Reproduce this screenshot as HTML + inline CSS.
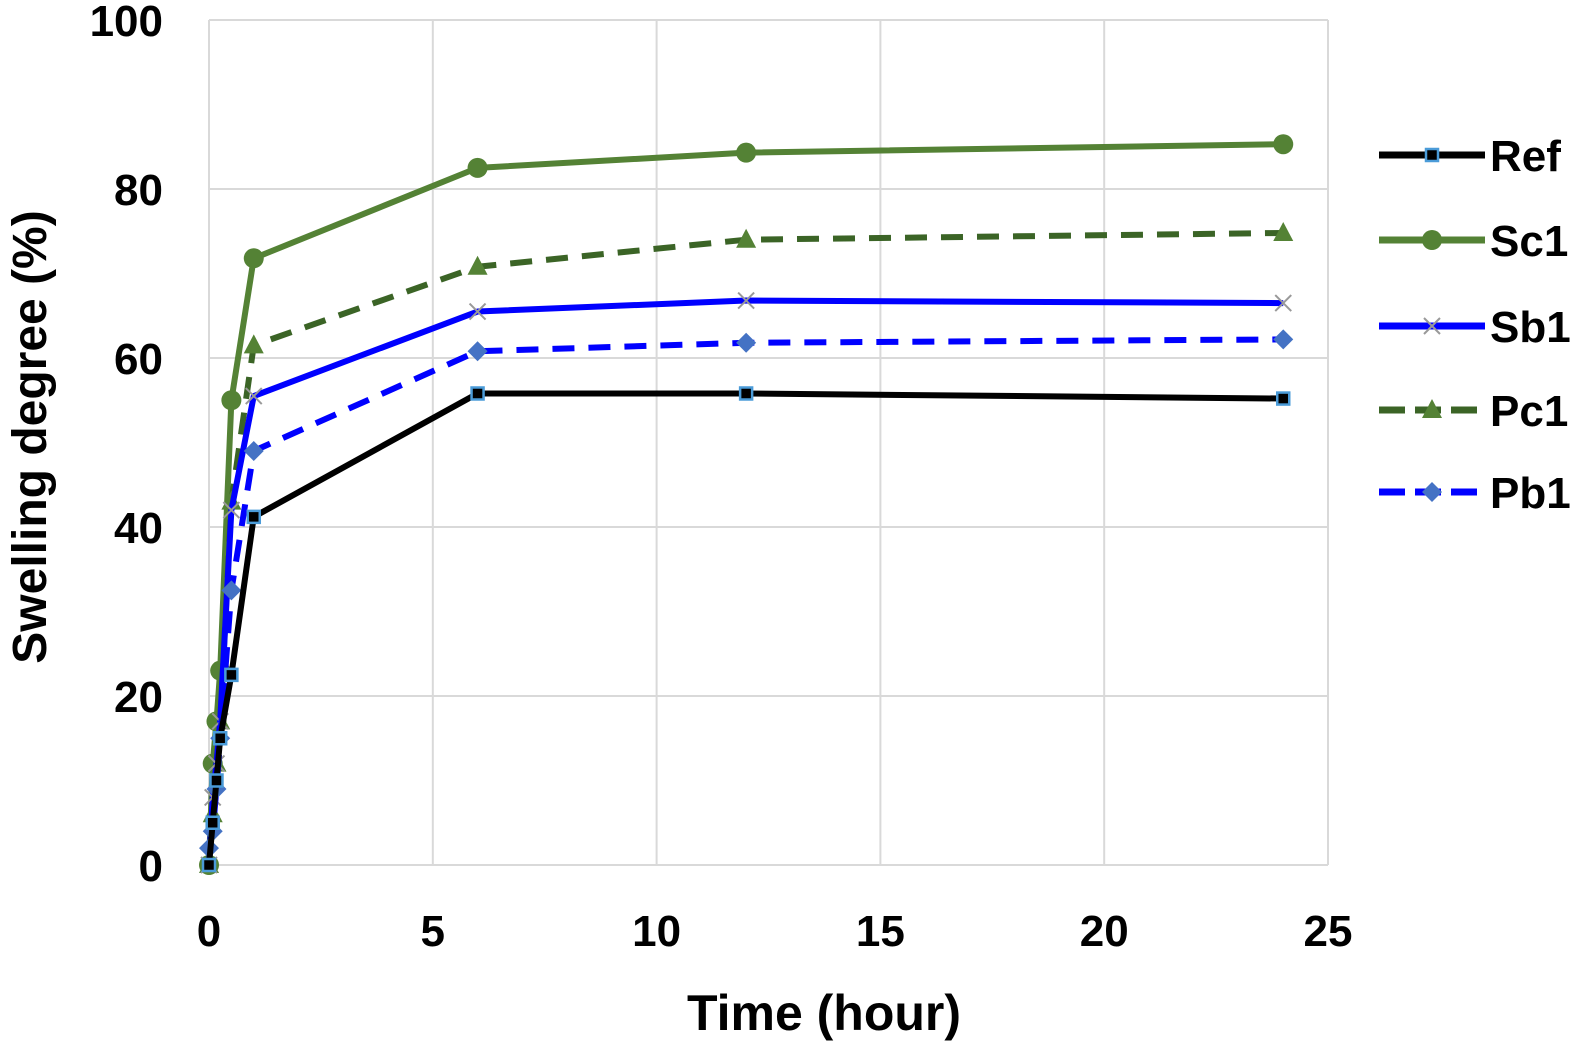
<!DOCTYPE html>
<html><head><meta charset="utf-8"><style>
html,body{margin:0;padding:0;background:#fff}
svg{display:block}
text{font-family:"Liberation Sans",sans-serif;font-weight:bold;fill:#000}
</style></head><body>
<svg id="chart" width="1575" height="1045" viewBox="0 0 1575 1045">
<g id="grid"></g>
<g id="axes"></g>
<g id="series"></g>
<g id="legend"></g>
<text x="824" y="1030" font-size="50" text-anchor="middle">Time (hour)</text>
<text transform="translate(46,437) rotate(-90)" font-size="48" text-anchor="middle">Swelling degree (%)</text>
</svg>
<script>
const times = [0, 0.083, 0.167, 0.25, 0.5, 1, 6, 12, 24];
const refVals = [0, 5, 10, 15, 22.5, 41.2, 55.8, 55.8, 55.2];
const sc1Vals = [0, 12, 17, 23, 55, 71.8, 82.5, 84.3, 85.3];
const sb1Vals = [0, 8, 12, 17, 42, 55.5, 65.5, 66.8, 66.5];
const pc1Vals = [0, 6, 12, 17, 43, 61.5, 70.8, 74, 74.8];
const pb1Vals = [2, 4, 9, 15, 32.5, 49, 60.8, 61.8, 62.2];
const xTicks = [0, 5, 10, 15, 20, 25];
const yTicks = [0, 20, 40, 60, 80, 100];
const seriesNames = ["Ref", "Sc1", "Sb1", "Pc1", "Pb1"];

const NS = "http://www.w3.org/2000/svg";
const X0 = 209, X1 = 1328, Y0 = 865, Y1 = 20;
function xs(t){ return X0 + (t/25)*(X1-X0); }
function ys(v){ return Y0 - (v/100)*(Y0-Y1); }
function mk(tag, attrs, parent){ const e=document.createElementNS(NS,tag); for(const k in attrs) e.setAttribute(k,attrs[k]); parent.appendChild(e); return e; }

const grid=document.getElementById('grid'), axes=document.getElementById('axes');
xTicks.forEach(t=>{
  const l=mk('line',{x1:xs(t),x2:xs(t),y1:Y1,y2:Y0,stroke:'#d9d9d9','stroke-width':2},grid);
  
  
  const tx=mk('text',{x:xs(t),y:946,'font-size':44,'text-anchor':'middle'},axes);
  tx.textContent=t;
  
  
});
yTicks.forEach(v=>{
  const l=mk('line',{x1:X0,x2:X1,y1:ys(v),y2:ys(v),stroke:'#d9d9d9','stroke-width':2},grid);
  
  
  const tx=mk('text',{x:163,y:ys(v)+16,'font-size':44,'text-anchor':'end'},axes);
  tx.textContent=v;
  
  
});

const styles = {
  Ref:{vals:refVals,stroke:'#000',dash:null,marker:'square'},
  Sc1:{vals:sc1Vals,stroke:'#548235',dash:null,marker:'circle'},
  Sb1:{vals:sb1Vals,stroke:'#0000ff',dash:null,marker:'x'},
  Pc1:{vals:pc1Vals,stroke:'#3b6426',dash:'22,14',marker:'tri'},
  Pb1:{vals:pb1Vals,stroke:'#0000ff',dash:'22,14',marker:'diamond'}
};
function marker(type,x,y,g){
  let e;
  if(type==='square') e=mk('rect',{x:x-6,y:y-6,width:12,height:12,fill:'#000',stroke:'#4a9bd8','stroke-width':2.5},g);
  else if(type==='circle') e=mk('circle',{cx:x,cy:y,r:10,fill:'#548235'},g);
  else if(type==='x'){ e=mk('path',{d:`M${x-8},${y-8}L${x+8},${y+8}M${x-8},${y+8}L${x+8},${y-8}`,stroke:'#999','stroke-width':2},g); }
  else if(type==='tri') e=mk('polygon',{points:`${x},${y-11} ${x+10},${y+8} ${x-10},${y+8}`,fill:'#548235'},g);
  else e=mk('polygon',{points:`${x},${y-10} ${x+10},${y} ${x},${y+10} ${x-10},${y}`,fill:'#4472c4'},g);
  
  
}
const sg=document.getElementById('series');
const order=["Sc1","Pc1","Sb1","Pb1","Ref"];
order.forEach(n=>{
  const s=styles[n];
  const g=mk('g',{},sg);
  
  
  const pts=s.vals.map((v,i)=>xs(times[i])+','+ys(v)).join(' ');
  const a={points:pts,fill:'none',stroke:s.stroke,'stroke-width':6,'stroke-linejoin':'round'};
  if(s.dash) a['stroke-dasharray']=s.dash;
  const pl=mk('polyline',a,g);
  
  
  s.vals.forEach((v,i)=>marker(s.marker,xs(times[i]),ys(v),g));
});
const lg=document.getElementById('legend');
const ly=[155,240,326,410,492];
seriesNames.forEach((n,i)=>{
  const s=styles[n];
  const g=mk('g',{},lg);
  
  
  const a={x1:1379,x2:1485,y1:ly[i],y2:ly[i],stroke:s.stroke,'stroke-width':7};
  if(s.dash) a['stroke-dasharray']='26,10';
  mk('line',a,g);
  marker(s.marker,1432,ly[i],g);
  const t=mk('text',{x:1490,y:ly[i]+16,'font-size':44},g);
  t.textContent=n;
  
  
});
</script>
</body></html>
